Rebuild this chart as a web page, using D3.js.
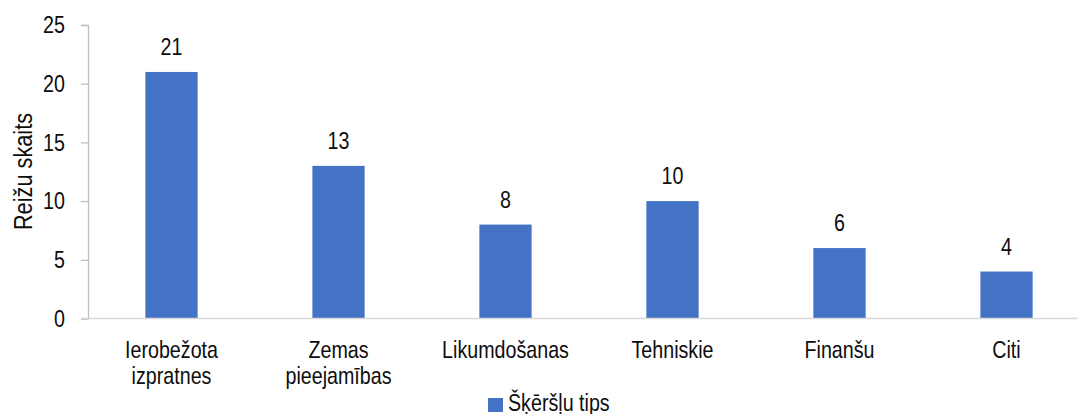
<!DOCTYPE html>
<html>
<head>
<meta charset="utf-8">
<script src="https://cdn.jsdelivr.net/npm/d3@7"></script>
<style>
  html, body { margin: 0; padding: 0; background: #fff; }
  text { font-family: "Liberation Sans", Arial, sans-serif; fill: #0d0d0d; }
</style>
</head>
<body>
<svg id="chart" width="1078" height="414"></svg>
<script>
const categories = [["Ierobežota", "izpratnes"], ["Zemas", "pieejamības"], ["Likumdošanas"], ["Tehniskie"], ["Finanšu"], ["Citi"]];
const values = [21, 13, 8, 10, 6, 4];
const yTicks = [0, 5, 10, 15, 20, 25];
const seriesName = "Šķēršļu tips";
const yTitle = "Reižu skaits";

const FS = 24;      // font size
const SX = 0.82;    // horizontal condensation of glyphs

const svg = d3.select("#chart");
const mLeft = 88, mRight = 1090, mTop = 25, mBottom = 318.5;

const keys = categories.map(c => c.join(" "));
const x = d3.scaleBand().domain(keys).range([mLeft, mRight]).paddingInner(0.687).paddingOuter(0.3435);
const y = d3.scaleLinear().domain([0, 25]).range([mBottom, mTop]);

// y axis
const yAxis = d3.axisLeft(y).tickValues(yTicks).tickSize(7).tickPadding(9);
const gy = svg.append("g").attr("transform", `translate(${mLeft},0)`).call(yAxis);
gy.select(".domain").attr("stroke", "#bfbfbf").attr("stroke-width", 1.3);
gy.selectAll(".tick line").attr("stroke", "#bfbfbf").attr("stroke-width", 1.3);
gy.selectAll(".tick text")
  .attr("x", 0)
  .attr("transform", `translate(-23,0) scale(${SX},1)`)
  .attr("fill", "#0d0d0d")
  .style("font-size", FS + "px")
  .style("font-family", "Liberation Sans, Arial, sans-serif");

// bars
svg.append("g").selectAll("rect").data(values).join("rect")
  .attr("x", (d, i) => x(keys[i]))
  .attr("width", x.bandwidth())
  .attr("y", d => y(d))
  .attr("height", d => y(0) - y(d))
  .attr("fill", "#4472c4");

// x axis baseline
svg.append("line").attr("x1", mLeft - 7).attr("x2", mRight).attr("y1", y(0)).attr("y2", y(0))
  .attr("stroke", "#d9d9d9").attr("stroke-width", 1.5);

// data labels
svg.append("g").selectAll("text").data(values).join("text")
  .attr("transform", (d, i) => `translate(${x(keys[i]) + x.bandwidth() / 2},${y(d) - 17}) scale(${SX},1)`)
  .attr("text-anchor", "middle")
  .style("font-size", FS + "px")
  .text(d => d);

// category labels
const cl = svg.append("g").selectAll("text").data(categories).join("text")
  .attr("transform", (d, i) => `translate(${x(keys[i]) + x.bandwidth() / 2},358) scale(${SX},1)`)
  .attr("text-anchor", "middle")
  .style("font-size", FS + "px");
cl.selectAll("tspan").data(d => d).join("tspan")
  .attr("x", 0)
  .attr("dy", (d, i) => i === 0 ? 0 : 26)
  .text(d => d);

// y title
svg.append("text")
  .attr("transform", `translate(32,171.5) rotate(-90) scale(0.87,1)`)
  .attr("text-anchor", "middle")
  .style("font-size", "25px")
  .text(yTitle);

// legend
svg.append("rect").attr("x", 488).attr("y", 398).attr("width", 15).attr("height", 14).attr("fill", "#4472c4");
svg.append("text")
  .attr("transform", `translate(508,411) scale(${SX},1)`)
  .style("font-size", FS + "px")
  .text(seriesName);
</script>
</body>
</html>
